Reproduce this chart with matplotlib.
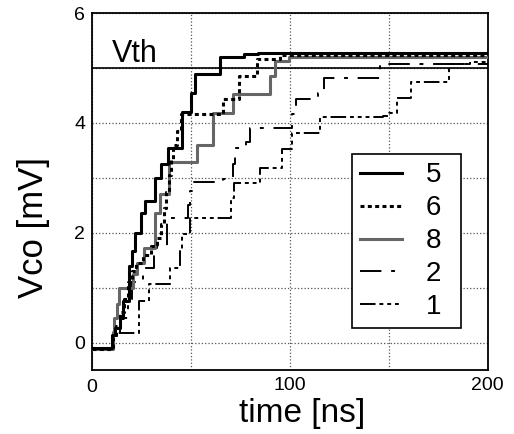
import matplotlib
matplotlib.use("Agg")

import matplotlib.pyplot as plt
from matplotlib.ticker import MultipleLocator

plt.rcParams["font.family"] = ["Liberation Sans", "DejaVu Sans"]

# step curves (time in ns, Vco in mV)
t5 = [0, 10, 11.5, 14, 15.5, 18.5, 20, 21.5, 25, 27, 32, 35, 38.5, 45.5, 50, 52, 64.5, 77, 84, 200]
v5 = [-0.1, 0.13, 0.27, 0.45, 0.76, 1.4, 1.67, 2.0, 2.35, 2.58, 3.0, 3.25, 3.55, 4.2, 4.55, 4.89, 5.2, 5.25, 5.28, 5.28]

t6 = [0, 10.5, 12, 14, 16, 18, 20, 22, 26, 30, 33, 35, 36.5, 37.5, 39, 40, 41, 43, 45, 66, 74.5, 83.5, 95, 200]
v6 = [-0.12, 0.1, 0.3, 0.55, 0.8, 1.1, 1.3, 1.45, 1.6, 1.75, 1.9, 2.15, 2.45, 2.75, 3.05, 3.35, 3.6, 3.85, 4.16, 4.43, 4.85, 5.16, 5.23, 5.23]

t8 = [0, 10.5, 11, 12.5, 13.5, 20.5, 22.5, 26.5, 32, 34.5, 39, 53, 61, 71, 90, 92.5, 99.5, 200]
v8 = [-0.12, 0.2, 0.45, 0.7, 1.0, 1.25, 1.45, 1.73, 2.35, 2.7, 3.29, 3.6, 4.18, 4.52, 4.85, 5.13, 5.2, 5.2]

t2 = [0, 10.5, 14, 18, 20, 26, 31.5, 33, 38, 48.5, 49.5, 50.5, 66, 71, 72.5, 78, 80, 101, 103, 114, 117, 145.5, 200]
v2 = [-0.12, 0.1, 0.45, 0.8, 1.1, 1.36, 1.6, 1.75, 2.27, 2.5, 2.76, 2.92, 2.97, 3.25, 3.55, 3.65, 3.9, 4.16, 4.44, 4.55, 4.82, 5.07, 5.07]

t1 = [0, 10.5, 23.5, 29, 39.5, 44.5, 45.5, 49.5, 70, 72, 85, 96, 101, 115, 147, 150, 154, 161, 180.5, 191, 200]
v1 = [-0.12, 0.17, 0.76, 1.07, 1.36, 1.67, 1.98, 2.27, 2.64, 2.9, 3.18, 3.52, 3.82, 4.1, 4.13, 4.18, 4.45, 4.75, 5.07, 5.1, 5.1]

vth = 5.0
labels = ["5", "6", "8", "2", "1"]

fig = plt.figure(figsize=(5.14, 4.34), dpi=100)
ax = fig.add_axes([0.179, 0.1475, 0.770, 0.8225])

ax.axhline(vth, color="black", lw=1.2, zorder=2)

h5, = ax.step(t5, v5, where="post", color="black", lw=2.2, zorder=6)
h6, = ax.step(t6, v6, where="post", color="black", lw=2.2,
              linestyle=(0, (1.3, 1.1)), zorder=5)
h8, = ax.step(t8, v8, where="post", color="#666666", lw=2.2, zorder=4)
h2, = ax.step(t2, v2, where="post", color="black", lw=1.4,
              linestyle=(0, (11, 5, 2, 5)), zorder=3)
h1, = ax.step(t1, v1, where="post", color="black", lw=1.4,
              linestyle=(0, (8, 2, 2, 2, 2, 2, 2, 2)), zorder=3)

ax.text(10, 5.1, "Vth", fontsize=22)

ax.set_xlim(0, 200)
ax.set_ylim(-0.5, 6)
ax.xaxis.set_major_locator(MultipleLocator(100))
ax.xaxis.set_minor_locator(MultipleLocator(50))
ax.yaxis.set_major_locator(MultipleLocator(2))
ax.yaxis.set_minor_locator(MultipleLocator(1))
ax.grid(True, which="both", linestyle=":", color="#555555", lw=0.9)
ax.tick_params(which="both", length=0, labelsize=14, pad=5)
ax.xaxis.get_major_ticks()[1].set_pad(6.5)
for s in ax.spines.values():
    s.set_linewidth(1.3)

ax.set_xlabel("time [ns]", fontsize=24)
ax.set_ylabel("Vco [mV]", fontsize=25)
ax.xaxis.set_label_coords(0.53, -0.078)
ax.yaxis.set_label_coords(-0.106, 0.398)

leg = ax.legend([h5, h6, h8, h2, h1], labels, loc="upper left",
                bbox_to_anchor=(0.657, 0.118, 0.275, 0.487), mode="expand",
                fontsize=20, handlelength=1.5, handletextpad=0.85,
                borderpad=0.3, labelspacing=0.25, fancybox=False,
                framealpha=1, edgecolor="black", borderaxespad=0)
leg.get_frame().set_linewidth(1.2)

fig.savefig("out.png", dpi=100)
